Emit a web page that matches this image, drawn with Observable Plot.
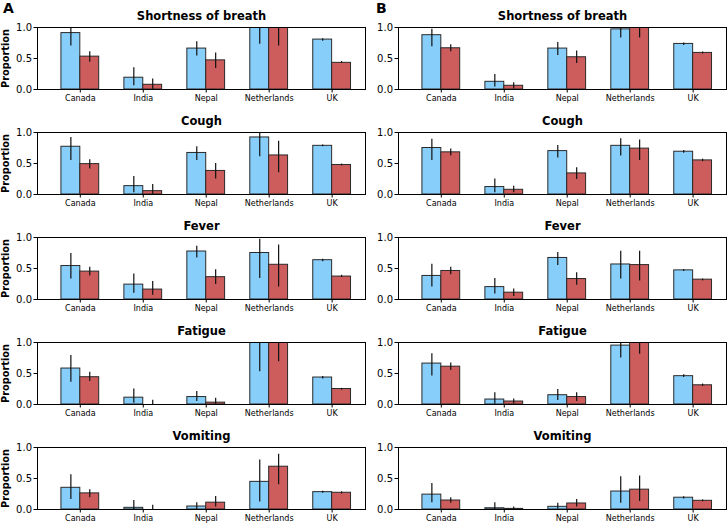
<!DOCTYPE html>
<html>
<head>
<meta charset="utf-8">
<script src="https://cdn.jsdelivr.net/npm/d3@7"></script>
<script src="https://cdn.jsdelivr.net/npm/@observablehq/plot@0.6"></script>
<style>
  html, body { margin: 0; padding: 0; background: #fff; }
  #root { position: relative; width: 727px; height: 525px; overflow: hidden; font-family: "DejaVu Sans", sans-serif; }
  .panel { position: absolute; }
  .letter { position: absolute; font-weight: bold; font-size: 14px; font-family: "DejaVu Sans", sans-serif; line-height: 1; }
</style>
</head>
<body>
<div id="root"></div>
<script>
const countries = ["Canada", "India", "Nepal", "Netherlands", "UK"];
const symptoms = ["Shortness of breath", "Cough", "Fever", "Fatigue", "Vomiting"];
const panelLetters = ["A", "B"];
const yTicks = [0, 0.5, 1];

// Panel A — blue series (rows: symptoms, cols: countries)
const aBlue   = [[0.91, 0.19, 0.66, 1.00, 0.805], [0.77, 0.135, 0.67, 0.92, 0.785], [0.54, 0.24, 0.774, 0.75, 0.634], [0.58, 0.11, 0.12, 1.00, 0.435], [0.35, 0.027, 0.048, 0.446, 0.28]];
const aBlueLo = [[0.70, 0.06, 0.54, 0.73, 0.78], [0.55, 0.03, 0.55, 0.61, 0.77], [0.33, 0.10, 0.67, 0.34, 0.61], [0.36, 0.02, 0.05, 0.53, 0.41], [0.16, 0.00, 0.00, 0.12, 0.263]];
const aBlueHi = [[1.05, 0.35, 0.77, 1.05, 0.82], [0.92, 0.29, 0.77, 1.05, 0.80], [0.74, 0.41, 0.86, 0.97, 0.65], [0.79, 0.25, 0.21, 1.05, 0.45], [0.56, 0.145, 0.11, 0.80, 0.295]];
// Panel A — red series
const aRed   = [[0.53, 0.076, 0.47, 1.00, 0.43], [0.49, 0.054, 0.38, 0.63, 0.476], [0.45, 0.16, 0.36, 0.56, 0.37], [0.44, 0.00, 0.03, 1.00, 0.25], [0.26, 0.00, 0.11, 0.69, 0.27]];
const aRedLo = [[0.44, 0.00, 0.34, 0.70, 0.42], [0.41, 0.00, 0.25, 0.35, 0.46], [0.38, 0.07, 0.24, 0.20, 0.355], [0.37, 0.00, 0.00, 0.69, 0.23], [0.19, 0.00, 0.04, 0.40, 0.25]];
const aRedHi = [[0.61, 0.17, 0.59, 1.05, 0.45], [0.56, 0.16, 0.50, 0.86, 0.49], [0.52, 0.29, 0.48, 0.88, 0.39], [0.52, 0.07, 0.10, 1.05, 0.26], [0.32, 0.07, 0.21, 0.89, 0.285]];
// Panel B — blue series
const bBlue   = [[0.876, 0.124, 0.66, 0.97, 0.735], [0.75, 0.12, 0.70, 0.785, 0.69], [0.38, 0.20, 0.67, 0.565, 0.47], [0.66, 0.08, 0.15, 0.95, 0.457], [0.24, 0.02, 0.043, 0.29, 0.19]];
const bBlueLo = [[0.69, 0.04, 0.55, 0.83, 0.71], [0.55, 0.03, 0.59, 0.62, 0.665], [0.20, 0.09, 0.55, 0.33, 0.45], [0.46, 0.005, 0.065, 0.75, 0.435], [0.11, 0.00, 0.005, 0.10, 0.17]];
const bBlueHi = [[0.97, 0.24, 0.76, 1.05, 0.75], [0.89, 0.25, 0.79, 0.90, 0.71], [0.57, 0.34, 0.76, 0.78, 0.48], [0.82, 0.19, 0.24, 1.05, 0.48], [0.42, 0.11, 0.10, 0.53, 0.205]];
// Panel B — red series
const bRed   = [[0.665, 0.06, 0.52, 1.00, 0.59], [0.68, 0.076, 0.34, 0.74, 0.55], [0.46, 0.11, 0.33, 0.555, 0.32], [0.61, 0.048, 0.12, 1.00, 0.31], [0.145, 0.01, 0.097, 0.32, 0.14]];
const bRedLo = [[0.61, 0.01, 0.42, 0.83, 0.573], [0.62, 0.03, 0.24, 0.55, 0.53], [0.40, 0.05, 0.23, 0.30, 0.30], [0.55, 0.01, 0.05, 0.81, 0.29], [0.10, 0.00, 0.04, 0.13, 0.125]];
const bRedHi = [[0.72, 0.11, 0.62, 1.05, 0.605], [0.735, 0.135, 0.43, 0.88, 0.57], [0.52, 0.17, 0.43, 0.78, 0.33], [0.67, 0.09, 0.19, 1.05, 0.33], [0.19, 0.04, 0.16, 0.54, 0.155]];

const panelData = {
  A: {blue: [aBlue, aBlueLo, aBlueHi], red: [aRed, aRedLo, aRedHi]},
  B: {blue: [bBlue, bBlueLo, bBlueHi], red: [bRed, bRedLo, bRedHi]}
};

const BLUE = "#87CEFA", RED = "#CD5C5C";
const barW = 0.3;

function rows(panel, s) {
  const out = [];
  for (const [series, color, off] of [["blue", BLUE, -1], ["red", RED, 0]]) {
    const [m, lo, hi] = panelData[panel][series];
    countries.forEach((c, i) => {
      out.push({
        i, country: c, color,
        x1: i + off * barW + (off === 0 ? 0 : 0),
        x2: i + (off === 0 ? barW : 0),
        xc: i + (off === 0 ? barW / 2 : -barW / 2),
        v: m[s][i], lo: lo[s][i], hi: hi[s][i]
      });
    });
  }
  return out;
}

const root = document.getElementById("root");

panelLetters.forEach((panel, p) => {
  const letter = document.createElement("div");
  letter.className = "letter";
  letter.textContent = panel;
  letter.style.left = (p === 0 ? 3 : 376) + "px";
  letter.style.top = "1px";
  root.appendChild(letter);

  symptoms.forEach((sym, s) => {
    const data = rows(panel, s);
    const marks = [
      Plot.rectY(data, {x1: "x1", x2: "x2", y1: 0, y2: "v", fill: "color", stroke: "#2a2a2a", strokeWidth: 1, clip: true}),
      Plot.ruleX(data, {x: "xc", y1: "lo", y2: "hi", stroke: "#111", strokeWidth: 1.2, clip: true}),
      Plot.frame({stroke: "#000", strokeWidth: 1}),
      Plot.axisX({ticks: [0, 1, 2, 3, 4], tickFormat: (d) => countries[d], tickSize: 3.5, tickPadding: 2, fontSize: 8, label: null}),
      Plot.axisY({ticks: yTicks, tickFormat: d3.format(".1f"), tickSize: 3.5, tickPadding: 2, fontSize: 10, label: null}),
      Plot.text([sym], {frameAnchor: "top", dy: -11, lineAnchor: "middle", fontWeight: "bold", fontSize: 11.5, fill: "#000"})
    ];
    if (p === 0) {
      marks.push(Plot.text(["Proportion"], {frameAnchor: "left", dx: -32, rotate: -90, textAnchor: "middle", lineAnchor: "middle", fontWeight: "bold", fontSize: 9.8, fill: "#000"}));
    }
    const chart = Plot.plot({
      width: p === 0 ? 366 : 363,
      height: 105,
      marginLeft: p === 0 ? 37 : 34,
      marginRight: 1,
      marginTop: 27,
      marginBottom: 16,
      x: {type: "linear", domain: [-0.68, 4.53], axis: null},
      y: {domain: [0, 1], axis: null},
      color: {type: "identity"},
      style: {fontFamily: "DejaVu Sans, sans-serif", color: "#000", background: "transparent", overflow: "visible"},
      marks
    });
    chart.classList.add("panel");
    chart.style.left = (p === 0 ? 0 : 364) + "px";
    chart.style.top = (105 * s) + "px";
    root.appendChild(chart);
  });
});
</script>
</body>
</html>
